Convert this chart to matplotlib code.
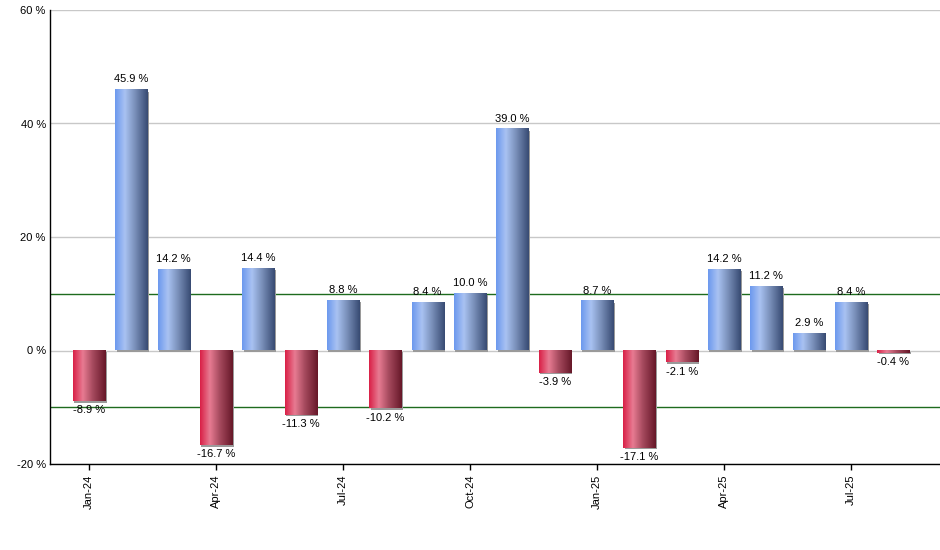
import numpy as np
import matplotlib
matplotlib.use("Agg")
import matplotlib.pyplot as plt
from matplotlib.colors import LinearSegmentedColormap
from matplotlib.patches import Rectangle
import matplotlib.transforms as mtransforms

months = ["Jan-24", "Feb-24", "Mar-24", "Apr-24", "May-24", "Jun-24", "Jul-24", "Aug-24",
          "Sep-24", "Oct-24", "Nov-24", "Dec-24", "Jan-25", "Feb-25", "Mar-25", "Apr-25",
          "May-25", "Jun-25", "Jul-25", "Aug-25"]
values = [-8.9, 45.9, 14.2, -16.7, 14.4, -11.3, 8.8, -10.2, 8.4, 10.0, 39.0, -3.9,
          8.7, -17.1, -2.1, 14.2, 11.2, 2.9, 8.4, -0.4]
yticks = [-20, 0, 20, 40, 60]
ref_lines = [10, -10]

plt.rcParams['font.family'] = ['Liberation Sans', 'DejaVu Sans']

fig = plt.figure(figsize=(9.4, 5.5), dpi=100)
ax = fig.add_axes([50/940, 1-464/550, 1-50/940, (464-10)/550])

blue = LinearSegmentedColormap.from_list("b", [(0, "#6b98ee"), (0.3, "#a9c2f2"), (0.6, "#7b91bb"), (1, "#374a72")])
red = LinearSegmentedColormap.from_list("r", [(0, "#d91f46"), (0.3, "#e77b92"), (0.6, "#a64a5e"), (1, "#661728")])
grad = np.linspace(0, 1, 256).reshape(1, -1)

x = np.arange(len(values))
w = 0.76
ax.set_xlim(-0.92, 20.1)
ax.set_ylim(-20, 60)

for yv in yticks:
    ax.axhline(yv, color="#c8c8c8", lw=1, zorder=0)
for yv in ref_lines:
    ax.axhline(yv, color="#1e6b1e", lw=1, zorder=1)

shadow_tr = mtransforms.offset_copy(ax.transData, fig=fig, x=1.5, y=-1.5, units='dots')
for xi, v in zip(x, values):
    x0 = xi - w/2
    y0, y1 = (0, v) if v >= 0 else (v, 0)
    sh = Rectangle((x0, y0), w, y1 - y0, facecolor="#9a9a9a", edgecolor="none",
                   transform=shadow_tr, zorder=2)
    ax.add_patch(sh)
    cm = blue if v >= 0 else red
    im = ax.imshow(grad, cmap=cm, aspect='auto', extent=(x0, x0 + w, y0, y1),
                   zorder=3, interpolation='bilinear')
    if v >= 0:
        ax.annotate(f"{v:.1f} %", (xi, v), xytext=(0, 4), textcoords='offset points',
                    ha='center', va='bottom', fontsize=8, zorder=4)
    else:
        ax.annotate(f"{v:.1f} %", (xi, v), xytext=(0, -3), textcoords='offset points',
                    ha='center', va='top', fontsize=8, zorder=4)

ax.set_xlim(-0.92, 20.1)
ax.set_ylim(-20, 60)
ax.set_yticks(yticks)
ax.set_yticklabels([f"{t} %" for t in yticks], fontsize=8)
tick_idx = list(range(0, len(months), 3))
ax.set_xticks(tick_idx)
ax.set_xticklabels([months[i] for i in tick_idx], rotation=90, fontsize=8)
ax.tick_params(axis='x', length=4, width=1, color='black')
ax.tick_params(axis='y', length=0, pad=3)
for s in ["top", "right"]:
    ax.spines[s].set_visible(False)
for s in ["left", "bottom"]:
    ax.spines[s].set_color("black")
    ax.spines[s].set_linewidth(1)

fig.savefig("out.png", dpi=100)
